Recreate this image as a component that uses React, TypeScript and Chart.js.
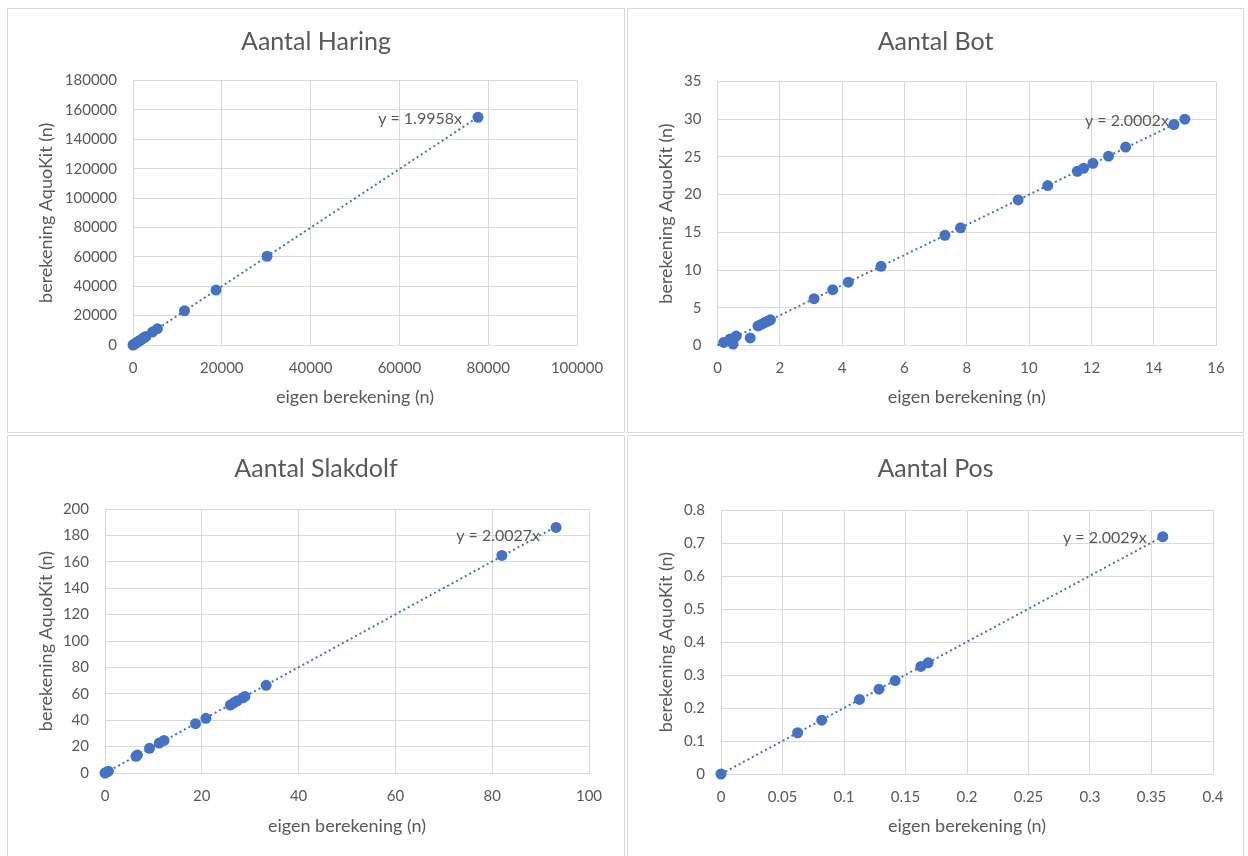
import React, { useEffect, useRef } from "react";
import { Chart, registerables } from "chart.js";

Chart.register(...registerables);

// ---------- Data ----------
// Aantal Haring
const haringX = [0, 150, 400, 700, 1000, 1300, 1700, 2100, 2500, 2900, 4400, 5500, 11600, 18700, 30200, 77700];
const haringY = [0, 300, 800, 1400, 2000, 2600, 3400, 4200, 5000, 5800, 8900, 11100, 23300, 37400, 60400, 155000];
const haringSlope = 1.9958;
const haringXTicks = [0, 100000, 20000];
const haringYTicks = [0, 180000, 20000];

// Aantal Bot
const botX = [0.2, 0.4, 0.5, 0.6, 1.05, 1.3, 1.4, 1.5, 1.6, 1.7, 3.1, 3.7, 4.2, 5.25, 7.3, 7.8, 9.65, 10.6, 11.55, 11.75, 12.05, 12.55, 13.1, 14.65, 15.0];
const botY = [0.4, 0.85, 0.2, 1.25, 1.0, 2.6, 2.8, 3.0, 3.2, 3.4, 6.2, 7.4, 8.4, 10.5, 14.6, 15.6, 19.3, 21.2, 23.1, 23.5, 24.15, 25.1, 26.3, 29.3, 30.0];
const botSlope = 2.0002;
const botXTicks = [0, 16, 2];
const botYTicks = [0, 35, 5];

// Aantal Slakdolf
const slakX = [0, 0.3, 0.7, 6.4, 6.7, 9.2, 11.2, 12.2, 18.7, 20.85, 25.9, 26.6, 27.3, 28.5, 28.9, 33.3, 82.0, 93.2];
const slakY = [0, 0.6, 1.4, 12.6, 13.6, 18.7, 22.7, 24.7, 37.4, 41.4, 51.5, 53.2, 54.6, 57.0, 58.0, 66.4, 164.8, 186.0];
const slakSlope = 2.0027;
const slakXTicks = [0, 100, 20];
const slakYTicks = [0, 200, 20];

// Aantal Pos
const posX = [0, 0.0623, 0.0819, 0.1126, 0.1285, 0.1416, 0.1625, 0.1684, 0.3592];
const posY = [0, 0.125, 0.163, 0.226, 0.257, 0.283, 0.326, 0.337, 0.719];
const posSlope = 2.0029;
const posXTicks = [0, 0.4, 0.05];
const posYTicks = [0, 0.8, 0.1];

const xTitle = "eigen berekening (n)";
const yTitle = "berekening AquoKit (n)";

// ---------- Styling ----------
const BLUE = "#4472C4";
const GRID = "#d9d9d9";
const TEXT = "#595959";
const FONT = "Lato, 'Open Sans', sans-serif";

type Panel = {
  title: string;
  xs: number[];
  ys: number[];
  slope: number;
  xTicks: number[];
  yTicks: number[];
  left: number;
  top: number;
  w: number;
  h: number;
  area: { l: number; r: number; t: number; b: number };
  xTitleY: number;
  labelDy: number;
};

const panels: Panel[] = [
  { title: "Aantal Haring", xs: haringX, ys: haringY, slope: haringSlope, xTicks: haringXTicks, yTicks: haringYTicks,
    left: 7, top: 8, w: 618, h: 425, area: { l: 125, r: 569, t: 71.5, b: 336 }, xTitleY: 388, labelDy: 1.5 },
  { title: "Aantal Bot", xs: botX, ys: botY, slope: botSlope, xTicks: botXTicks, yTicks: botYTicks,
    left: 627, top: 8, w: 617, h: 425, area: { l: 89.5, r: 588, t: 72.5, b: 336.5 }, xTitleY: 388, labelDy: 2 },
  { title: "Aantal Slakdolf", xs: slakX, ys: slakY, slope: slakSlope, xTicks: slakXTicks, yTicks: slakYTicks,
    left: 7, top: 435, w: 618, h: 425, area: { l: 97, r: 581, t: 73, b: 337 }, xTitleY: 390, labelDy: 9 },
  { title: "Aantal Pos", xs: posX, ys: posY, slope: posSlope, xTicks: posXTicks, yTicks: posYTicks,
    left: 627, top: 435, w: 617, h: 425, area: { l: 93, r: 585, t: 74, b: 338 }, xTitleY: 390, labelDy: 1.5 },
];

const fmt = (v: number) => String(Math.round(v * 1e6) / 1e6);

const overlayPlugin = {
  id: "overlay",
  afterDatasetsDraw(chart: any, _args: any, opts: any) {
    const { ctx } = chart;
    ctx.save();
    ctx.fillStyle = TEXT;
    ctx.textBaseline = "middle";
    ctx.textAlign = "center";
    ctx.font = `25px ${FONT}`;
    ctx.fillText(opts.title, chart.width / 2, 33);
    const px = chart.scales.x.getPixelForValue(opts.endX);
    const py = chart.scales.y.getPixelForValue(opts.endY);
    ctx.font = `16px ${FONT}`;
    ctx.textAlign = "right";
    ctx.fillText(opts.label, px - 16, py + opts.labelDy);
    ctx.restore();
  },
};

function ChartPanel({ p }: { p: Panel }) {
  const ref = useRef<HTMLCanvasElement>(null);
  const cw = p.w - 2;
  const ch = p.h - 2;

  useEffect(() => {
    const canvas = ref.current;
    if (!canvas) return;
    const xmax = Math.max(...p.xs);
    const points = p.xs.map((x, i) => ({ x, y: p.ys[i] }));
    const trend = [
      { x: 0, y: 0 },
      { x: xmax, y: p.slope * xmax },
    ];
    const yWidth = p.area.l;
    const xHeight = ch - p.area.b;
    const titleLine = 18 * 1.2;
    const chart = new Chart(canvas, {
      type: "scatter",
      data: {
        datasets: [
          {
            data: trend,
            showLine: true,
            borderColor: BLUE,
            borderWidth: 2,
            borderDash: [2, 3],
            pointRadius: 0,
            pointHoverRadius: 0,
            fill: false,
            clip: false,
            order: 0,
          } as any,
          {
            data: points,
            backgroundColor: BLUE,
            borderColor: BLUE,
            borderWidth: 0,
            pointRadius: 5.5,
            pointHoverRadius: 5.5,
            clip: false,
            order: 1,
          } as any,
        ],
      },
      plugins: [overlayPlugin as any],
      options: {
        animation: false,
        responsive: false,
        events: [],
        layout: {
          padding: { top: p.area.t, left: 0, right: cw - p.area.r, bottom: 0 },
        },
        plugins: {
          legend: { display: false },
          tooltip: { enabled: false },
          title: { display: false },
          overlay: {
            title: p.title,
            endX: xmax,
            endY: p.slope * xmax,
            label: `y = ${p.slope.toFixed(4)}x`,
            labelDy: p.labelDy,
          },
        } as any,
        scales: {
          x: {
            type: "linear",
            min: p.xTicks[0],
            max: p.xTicks[1],
            ticks: {
              stepSize: p.xTicks[2],
              color: TEXT,
              font: { family: FONT, size: 15 },
              padding: 14,
              maxRotation: 0,
              autoSkip: false,
              callback: (v: any) => fmt(Number(v)),
            },
            grid: { color: GRID, lineWidth: 1, drawTicks: false },
            border: { color: GRID, width: 1 },
            title: {
              display: true,
              text: xTitle,
              color: TEXT,
              font: { family: FONT, size: 18 },
              padding: { top: 0, bottom: ch - p.xTitleY - titleLine / 2 },
            },
            afterFit: (s: any) => {
              s.height = xHeight;
            },
          },
          y: {
            type: "linear",
            min: p.yTicks[0],
            max: p.yTicks[1],
            ticks: {
              stepSize: p.yTicks[2],
              color: TEXT,
              font: { family: FONT, size: 15 },
              padding: 16,
              autoSkip: false,
              callback: (v: any) => fmt(Number(v)),
            },
            grid: { color: GRID, lineWidth: 1, drawTicks: false },
            border: { color: GRID, width: 1 },
            title: {
              display: true,
              text: yTitle,
              color: TEXT,
              font: { family: FONT, size: 18 },
              padding: { top: 38 - titleLine / 2, bottom: 0 },
            },
            afterFit: (s: any) => {
              s.width = yWidth;
            },
          },
        },
      },
    });
    return () => chart.destroy();
  }, []);

  return (
    <div
      style={{
        position: "absolute",
        left: p.left,
        top: p.top,
        width: p.w,
        height: p.h,
        boxSizing: "border-box",
        border: `1px solid ${GRID}`,
        background: "#ffffff",
        overflow: "hidden",
      }}
    >
      <canvas ref={ref} width={cw} height={ch} style={{ display: "block", width: cw, height: ch }} />
    </div>
  );
}

export default function App() {
  return (
    <div
      style={{
        position: "absolute",
        left: 0,
        top: 0,
        width: 1248,
        height: 856,
        background: "#ffffff",
        overflow: "hidden",
      }}
    >
      {panels.map((p) => (
        <ChartPanel key={p.title} p={p} />
      ))}
    </div>
  );
}
